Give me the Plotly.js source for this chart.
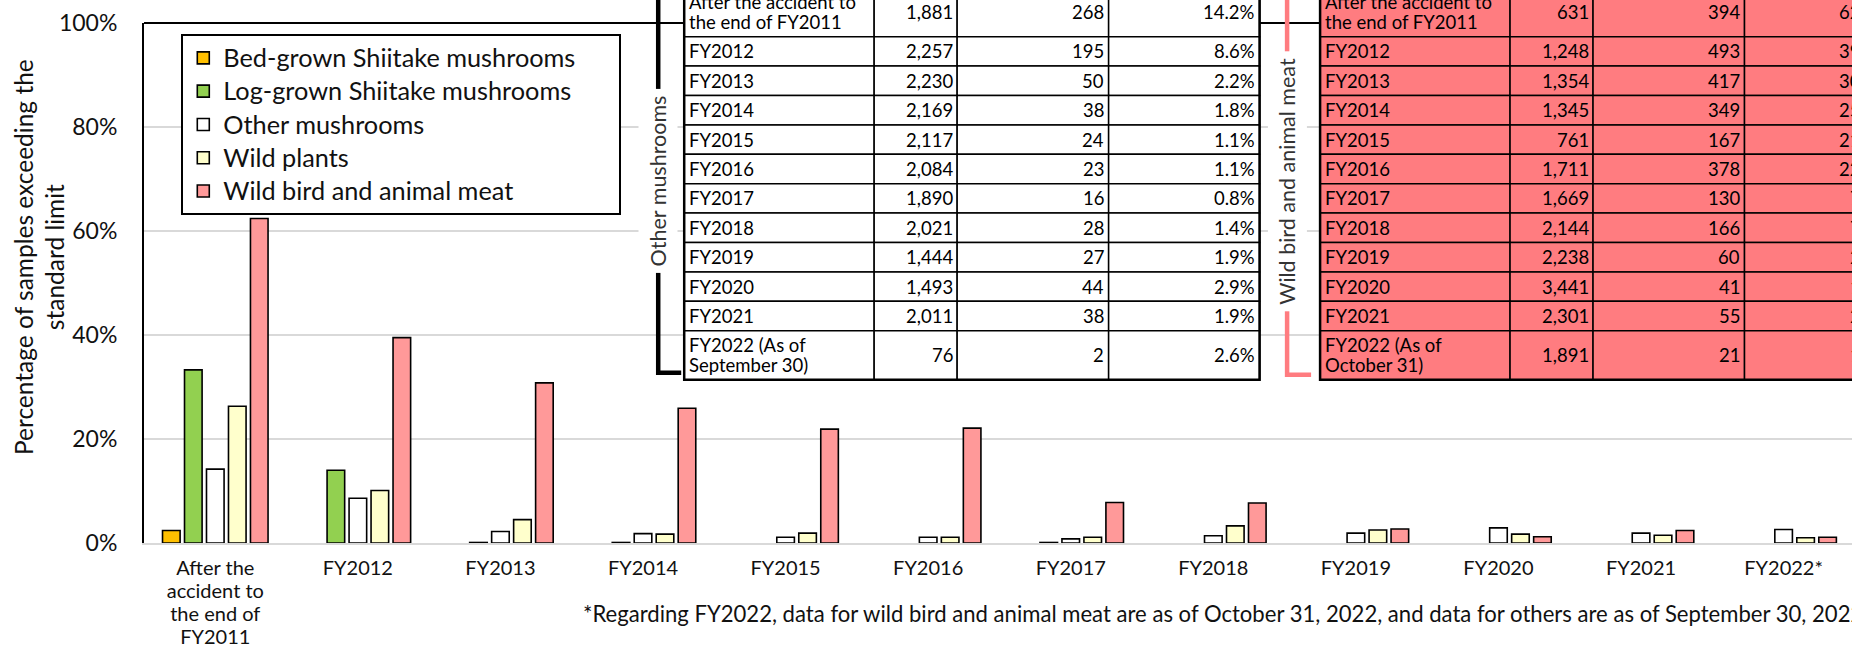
<!DOCTYPE html>
<html><head><meta charset="utf-8">
<script src="https://cdn.plot.ly/plotly-3.0.1.min.js"></script>
<style>html,body{margin:0;padding:0;overflow:hidden;background:#fff}#chart{width:1852px;height:648px}</style>
</head><body><div id="chart"></div>
<script>
// ---------- chart data ----------
const categories = ['After the<br>accident to<br>the end of<br>FY2011','FY2012','FY2013','FY2014','FY2015','FY2016','FY2017','FY2018','FY2019','FY2020','FY2021','FY2022*'];
const bedGrownShiitake = [2.4, null, null, null, null, null, null, null, null, null, null, null];
const logGrownShiitake = [33.3, 14.0, 0.1, 0.1, null, null, 0.1, null, null, null, null, null];
const otherMushrooms   = [14.2, 8.6, 2.2, 1.8, 1.1, 1.1, 0.8, 1.4, 1.9, 2.9, 1.9, 2.6];
const wildPlants       = [26.3, 10.1, 4.5, 1.7, 1.9, 1.1, 1.1, 3.3, 2.5, 1.7, 1.5, 1.0];
const wildMeat         = [62.4, 39.5, 30.8, 25.9, 21.9, 22.1, 7.8, 7.7, 2.7, 1.2, 2.4, 1.1];
const seriesNames = ['Bed-grown Shiitake mushrooms','Log-grown Shiitake mushrooms','Other mushrooms','Wild plants','Wild bird and animal meat'];
const yTickVals = [0, 20, 40, 60, 80, 100];
const yTitle = 'Percentage of samples exceeding the<br>standard limit';

// ---------- table data ----------
const otherRowLabels = ['After the accident to\nthe end of FY2011','FY2012','FY2013','FY2014','FY2015','FY2016','FY2017','FY2018','FY2019','FY2020','FY2021','FY2022 (As of\nSeptember 30)'];
const otherSamples   = [1881, 2257, 2230, 2169, 2117, 2084, 1890, 2021, 1444, 1493, 2011, 76];
const otherExceeding = [268, 195, 50, 38, 24, 23, 16, 28, 27, 44, 38, 2];
const otherPercent   = [14.2, 8.6, 2.2, 1.8, 1.1, 1.1, 0.8, 1.4, 1.9, 2.9, 1.9, 2.6];

const meatRowLabels = ['After the accident to\nthe end of FY2011','FY2012','FY2013','FY2014','FY2015','FY2016','FY2017','FY2018','FY2019','FY2020','FY2021','FY2022 (As of\nOctober 31)'];
const meatSamples   = [631, 1248, 1354, 1345, 761, 1711, 1669, 2144, 2238, 3441, 2301, 1891];
const meatExceeding = [394, 493, 417, 349, 167, 378, 130, 166, 60, 41, 55, 21];
const meatPercent   = [62.4, 39.5, 30.8, 25.9, 21.9, 22.1, 7.8, 7.7, 2.7, 1.2, 2.4, 1.1];

const footnote = '*Regarding FY2022, data for wild bird and animal meat are as of October 31, 2022, and data for others are as of September 30, 2022.';

// ---------- styling / geometry ----------
const FONT = 'Lato, "Open Sans", sans-serif';
const TXT = '#111111';
const colors = ['#FFC000','#92D050','#FFFFFF','#FFFFCC','#FF9999'];
const W = 1852, H = 648;
const PLOT = {left: 143.7, right: 1852, top: 23.3, bottom: 543.3};
const CAT_W = 142.6;
const px = x => (x - PLOT.left) / (PLOT.right - PLOT.left);
const py = y => (PLOT.bottom - y) / (PLOT.bottom - PLOT.top);
const LEGEND_PAD = '&nbsp;'.repeat(6);  // widens the legend box like the reference

const traces = [bedGrownShiitake, logGrownShiitake, otherMushrooms, wildPlants, wildMeat].map((vals, i) => ({
  type: 'bar', name: '<span style="font-size:25.3px">' + seriesNames[i] + (i === 0 ? LEGEND_PAD : '') + '</span>', x: categories, y: vals,
  marker: {color: colors[i], line: {color: '#000', width: 1.6}},
  hoverinfo: 'skip'
}));

const shapes = [];
const annotations = [];

// plot-area top border
shapes.push({type: 'line', xref: 'paper', yref: 'paper', x0: 0, x1: 1.2, y0: 1, y1: 1, line: {color: '#000', width: 2}});

const fmtInt = v => v.toLocaleString('en-US');
const fmtPct = v => v.toFixed(1) + '%';

function buildTable(left, labels, samples, exceeding, percent, fill) {
  const colW = [190, 83, 151.5, 151];
  const top = -12, oneLine = 29.4, twoLine = 49;
  const fs = 18.5;
  let y = top;
  const colX = [left];
  colW.forEach(w => colX.push(colX[colX.length - 1] + w));
  labels.forEach((lab, r) => {
    const h = lab.indexOf('\n') >= 0 ? twoLine : oneLine;
    const y0 = y, y1 = y + h, yc = (y0 + y1) / 2;
    const cells = [lab, fmtInt(samples[r]), fmtInt(exceeding[r]), fmtPct(percent[r])];
    cells.forEach((txt, c) => {
      shapes.push({type: 'rect', xref: 'paper', yref: 'paper', x0: px(colX[c]), x1: px(colX[c + 1]), y0: py(y0), y1: py(y1),
        fillcolor: fill, line: {color: '#000', width: 1.5}, layer: 'above'});
      const lines = txt.split('\n');
      lines.forEach((ln, k) => {
        const ly = yc + (k - (lines.length - 1) / 2) * 20.5;
        annotations.push({xref: 'paper', yref: 'paper', showarrow: false,
          x: c === 0 ? px(colX[c] + 4) : px(colX[c + 1] - 3.5), xanchor: c === 0 ? 'left' : 'right',
          y: py(ly), yanchor: 'middle', text: ln, font: {family: FONT, size: fs, color: '#000'}, borderpad: 0});
      });
    });
    y = y1;
  });
  shapes.push({type: 'rect', xref: 'paper', yref: 'paper', x0: px(colX[0]), x1: px(colX[4]), y0: py(top), y1: py(y),
    line: {color: '#000', width: 2.5}, layer: 'above'});
  return {left: colX[0], bottom: y};
}

const t1 = buildTable(684, otherRowLabels, otherSamples, otherExceeding, otherPercent, '#FFFFFF');
const t2 = buildTable(1320, meatRowLabels, meatSamples, meatExceeding, meatPercent, '#FF7C80');

// brackets with labels
function bracket(x, bottom, footTo, color, label, labelY) {
  shapes.push({type: 'path', xref: 'paper', yref: 'paper',
    path: `M ${px(x)},${py(-60)} L ${px(x)},${py(bottom)} L ${px(footTo)},${py(bottom)}`,
    line: {color: color, width: 4.5}, layer: 'above'});
  annotations.push({xref: 'paper', yref: 'paper', showarrow: false, x: px(x), y: py(labelY),
    xanchor: 'center', yanchor: 'middle', textangle: -90, text: label, bgcolor: '#FFFFFF', borderpad: 6,
    font: {family: FONT, size: 21.5, color: '#333333'}});
}
bracket(658, t1.bottom - 7, t1.left - 3, '#000000', 'Other mushrooms', 181.5);
bracket(1287, t2.bottom - 5, t2.left - 9, '#FF7C80', 'Wild bird and animal meat', 182);

// y-axis title (rotated annotation, placed as in the reference)
annotations.push({xref: 'paper', yref: 'paper', showarrow: false, x: px(39), y: py(257), xanchor: 'center', yanchor: 'middle',
  textangle: -90, text: yTitle, font: {family: FONT, size: 24.5, color: TXT}});

// footnote
annotations.push({xref: 'paper', yref: 'paper', showarrow: false, x: px(581), y: py(614), xanchor: 'left', yanchor: 'middle',
  text: footnote, font: {family: FONT, size: 22.1, color: TXT}});

// x tick labels: glyphs at 20px, line spacing of a smaller base size
const xTickText = categories.map(c => c.split('<br>').map(l => '<span style="font-size:20px">' + l + '</span>').join('<br>'));

const layout = {
  width: W, height: H,
  margin: {l: PLOT.left, r: W - PLOT.right, t: PLOT.top, b: H - PLOT.bottom, pad: 0},
  paper_bgcolor: '#fff', plot_bgcolor: '#fff',
  barmode: 'group', bargap: 0.229, bargroupgap: 0.2,
  font: {family: FONT, color: TXT},
  showlegend: true,
  legend: {x: px(181), y: py(34.5), xanchor: 'left', yanchor: 'top', bgcolor: '#fff', bordercolor: '#000', borderwidth: 2,
    font: {family: FONT, size: 23.3, color: TXT}, tracegroupgap: 0, itemclick: false, itemdoubleclick: false},
  xaxis: {type: 'category', range: [-0.5, -0.5 + (PLOT.right - PLOT.left) / CAT_W], showline: true, linecolor: '#D9D9D9', linewidth: 2,
    tickmode: 'array', tickvals: categories, ticktext: xTickText,
    ticks: 'outside', ticklen: 9, tickcolor: 'rgba(0,0,0,0)', tickfont: {family: FONT, size: 17.7, color: TXT}, showgrid: false, fixedrange: true},
  yaxis: {range: [0, 100], tickmode: 'array', tickvals: yTickVals, ticktext: yTickVals.map(v => v + '%'),
    showgrid: true, gridcolor: '#D9D9D9', gridwidth: 1.5, zeroline: false,
    showline: true, linecolor: '#000', linewidth: 2, ticks: 'outside', ticklen: 20, tickcolor: 'rgba(0,0,0,0)',
    tickfont: {family: FONT, size: 23, color: TXT}, fixedrange: true},
  shapes: shapes,
  annotations: annotations
};

Plotly.newPlot('chart', traces, layout, {displayModeBar: false, staticPlot: true});
</script></body></html>
